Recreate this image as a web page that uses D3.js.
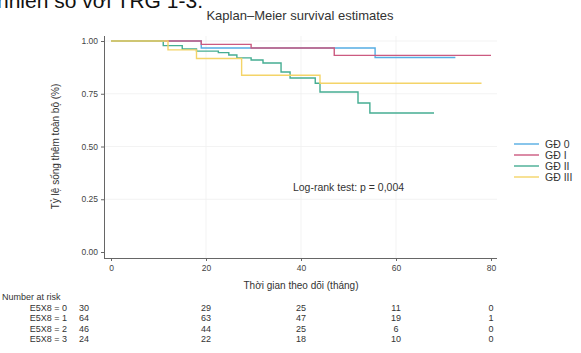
<!DOCTYPE html>
<html>
<head>
<meta charset="utf-8">
<script src="https://cdn.jsdelivr.net/npm/d3@7"></script>
<style>
  body { margin: 0; background: #fff; }
  svg { font-family: "Liberation Sans", Arial, sans-serif; }
  .axis path, .axis line { stroke: #666; }
  .axis text { fill: #444; font-size: 8.5px; }
</style>
</head>
<body>
<svg class="km-chart" width="581" height="353"></svg>
<script>
// survival steps [month, survival] per group, last entry = end of follow-up
const groups = ['GĐ 0', 'GĐ I', 'GĐ II', 'GĐ III'];
const colors = ['#55ade3', '#cc5a80', '#45ad92', '#f4d468'];
const gd0 = [[0, 1], [19, 0.967], [55.6, 0.922], [72.5, 0.922]];
const gd1 = [[0, 1], [19, 0.984], [29.5, 0.967], [47, 0.932], [80, 0.932]];
const gd2 = [[0, 1], [11, 0.978], [15, 0.962], [18, 0.952], [22.6, 0.945], [24.8, 0.934],
  [26.5, 0.92], [29.5, 0.91], [32, 0.896], [35.8, 0.853], [37.7, 0.825], [43, 0.8],
  [44, 0.758], [52, 0.706], [54.5, 0.659], [68, 0.659]];
const gd3 = [[0, 1], [12, 0.958], [18, 0.917], [27.5, 0.838], [44, 0.8], [78, 0.8]];
const curves = [gd0, gd1, gd2, gd3];

const xTicks = [0, 20, 40, 60, 80];
const yTicks = [0, 0.25, 0.5, 0.75, 1];
const riskLabels = ['E5X8 = 0', 'E5X8 = 1', 'E5X8 = 2', 'E5X8 = 3'];
const atRisk = [
  [30, 29, 25, 11, 0],
  [64, 63, 47, 19, 1],
  [46, 44, 25, 6, 0],
  [24, 22, 18, 10, 0]
];

const svg = d3.select('.km-chart');
const x = d3.scaleLinear().domain([0, 80]).range([111, 491]);
const y = d3.scaleLinear().domain([0, 1]).range([252, 41]);

// cut-off caption text at top of page
svg.append('text')
  .attr('x', -3).attr('y', 8)
  .attr('font-size', 21).attr('fill', '#111')
  .text('nhiên so với TRG 1-3.');

// title
svg.append('text')
  .attr('x', 300).attr('y', 20)
  .attr('text-anchor', 'middle')
  .attr('font-size', 13).attr('fill', '#333')
  .text('Kaplan–Meier survival estimates');

// faint grid
svg.append('g').selectAll('line')
  .data(yTicks.filter(d => d > 0))
  .join('line')
  .attr('x1', 105).attr('x2', 497)
  .attr('y1', d => y(d)).attr('y2', d => y(d))
  .attr('stroke', '#f0f0f0').attr('stroke-width', 0.8);
svg.append('g').selectAll('line')
  .data(xTicks.filter(d => d > 0 && d < 80))
  .join('line')
  .attr('x1', d => x(d)).attr('x2', d => x(d))
  .attr('y1', 36).attr('y2', 258)
  .attr('stroke', '#f0f0f0').attr('stroke-width', 0.8);

// axes
const xAxis = d3.axisBottom(x).tickValues(xTicks).tickSize(3).tickPadding(4);
const yAxis = d3.axisLeft(y).tickValues(yTicks).tickSize(3).tickPadding(3)
  .tickFormat(d3.format('.2f'));

svg.append('g')
  .attr('class', 'axis axis-x')
  .attr('transform', 'translate(0, 258)')
  .call(xAxis)
  .call(g => g.select('.domain').attr('d', 'M104,0.5H497'));

svg.append('g')
  .attr('class', 'axis axis-y')
  .attr('transform', 'translate(104, 0)')
  .call(yAxis)
  .call(g => g.select('.domain').attr('d', 'M0.5,36V258'));

// axis titles
svg.append('text')
  .attr('x', x(40)).attr('y', 289)
  .attr('text-anchor', 'middle')
  .attr('font-size', 10).attr('fill', '#333')
  .text('Thời gian theo dõi (tháng)');

svg.append('text')
  .attr('transform', `translate(59, ${y(0.5)}) rotate(-90)`)
  .attr('text-anchor', 'middle')
  .attr('font-size', 10).attr('fill', '#333')
  .text('Tỷ lệ sống thêm toàn bộ (%)');

// KM step curves
const line = d3.line()
  .x(d => x(d[0]))
  .y(d => y(d[1]))
  .curve(d3.curveStepAfter);

svg.append('g').selectAll('path')
  .data(curves)
  .join('path')
  .attr('fill', 'none')
  .attr('stroke', (d, i) => colors[i])
  .attr('stroke-width', 1.4)
  .attr('d', line);

// log-rank annotation
svg.append('text')
  .attr('x', x(50)).attr('y', 191)
  .attr('text-anchor', 'middle')
  .attr('font-size', 10.5).attr('fill', '#333')
  .text('Log-rank test: p = 0,004');

// legend
const legend = svg.append('g').selectAll('g')
  .data(groups)
  .join('g')
  .attr('transform', (d, i) => `translate(514, ${144 + i * 11})`);
legend.append('line')
  .attr('x1', 0).attr('x2', 25)
  .attr('stroke', (d, i) => colors[i])
  .attr('stroke-width', 1.4);
legend.append('text')
  .attr('x', 31).attr('dy', '0.35em')
  .attr('font-size', 10.5).attr('fill', '#333')
  .text(d => d);

// number at risk table
svg.append('text')
  .attr('x', 2).attr('y', 300)
  .attr('font-size', 9).attr('fill', '#333')
  .text('Number at risk');

const rows = svg.append('g').selectAll('g')
  .data(atRisk)
  .join('g')
  .attr('transform', (d, i) => `translate(0, ${311 + i * 10.3})`);
rows.append('text')
  .attr('x', 67).attr('text-anchor', 'end')
  .attr('font-size', 9).attr('fill', '#333')
  .text((d, i) => riskLabels[i]);
rows.selectAll('text.n')
  .data(d => d)
  .join('text')
  .attr('class', 'n')
  .attr('x', (d, j) => j === 0 ? x(xTicks[j]) - 27 : x(xTicks[j]))
  .attr('text-anchor', 'middle')
  .attr('font-size', 9).attr('fill', '#333')
  .text(d => d);
</script>
</body>
</html>
